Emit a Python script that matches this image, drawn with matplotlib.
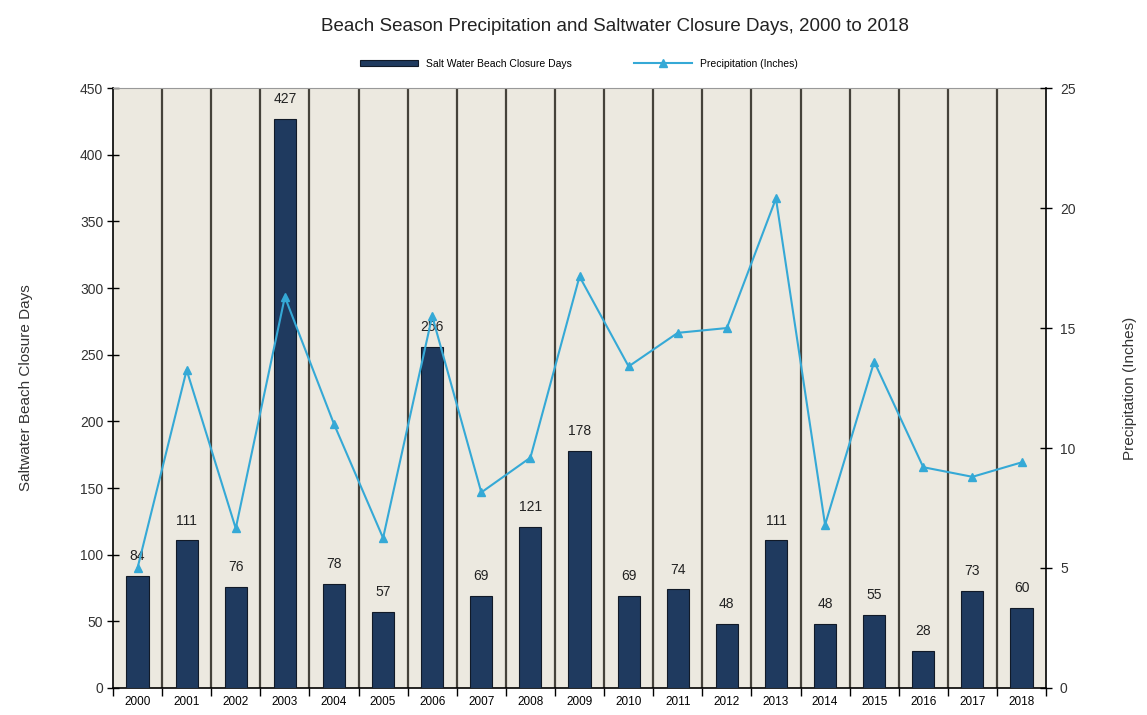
import numpy as np
import matplotlib.pyplot as plt

# Datos
years = [str(y) for y in range(2000, 2019)]
closure_days = [84, 111, 76, 427, 78, 57, 256, 69, 121, 178, 69, 74, 48, 111, 48, 55, 28, 73, 60]
precip_inches = [5.0, 13.25, 6.65, 16.3, 11.0, 6.25, 15.5, 8.15, 9.6, 17.15,
                 13.4, 14.8, 15.0, 20.4, 6.8, 13.6, 9.2, 8.8, 9.4]


def plot_closures():
    plt.rcParams['font.family'] = ['Liberation Sans', 'DejaVu Sans']
    fig = plt.figure(figsize=(11.47, 7.15), dpi=100)
    ax = fig.add_axes([0.0985, 0.0378, 0.8135, 0.839])
    ax.set_facecolor('#ECE9E0')

    x = np.arange(len(years))
    bars = ax.bar(x, closure_days, width=0.45, color='#1F3A5F', edgecolor='#111a28',
                  linewidth=0.8, label='Salt Water Beach Closure Days', zorder=3)

    # Etiquetas de valor sobre las barras
    for xi, v in zip(x, closure_days):
        ax.annotate(str(v), (xi, v), xytext=(0, 9), textcoords='offset points',
                    ha='center', va='bottom', fontsize=10, color='#222222', zorder=5)

    # Líneas verticales entre categorías
    for b in np.arange(0.5, len(years) - 0.5, 1):
        ax.axvline(b, color='#45423a', linewidth=1.6, zorder=1)

    ax.set_xlim(-0.5, len(years) - 0.5)
    ax.set_ylim(0, 450)
    ax.set_yticks(np.arange(0, 451, 50))
    ax.set_xticks(x)
    ax.set_xticklabels(years, fontsize=8.5)
    ax.tick_params(axis='x', length=0, pad=6)
    ax.set_xticks(np.arange(-0.5, len(years), 1), minor=True)
    ax.tick_params(axis='x', which='minor', length=6, width=1, color='black')
    ax.tick_params(axis='y', direction='inout', length=8, width=1, labelsize=10,
                   labelcolor='#333333', pad=3)
    ax.set_ylabel('Saltwater Beach Closure Days', fontsize=11, color='#333333', labelpad=34)
    for side in ['left', 'bottom']:
        ax.spines[side].set_color('black')
        ax.spines[side].set_linewidth(1.2)
    ax.spines['top'].set_color('#999999')
    ax.spines['right'].set_visible(False)

    ax2 = ax.twinx()
    line, = ax2.plot(x, precip_inches, color='#35A9D6', linewidth=1.5, marker='^',
                     markersize=6, label='Precipitation (Inches)', zorder=4)
    ax2.set_ylim(0, 25)
    ax2.set_yticks(np.arange(0, 26, 5))
    ax2.tick_params(axis='y', direction='inout', length=8, width=1, labelsize=10,
                    labelcolor='#333333', pad=6)
    ax2.set_ylabel('Precipitation (Inches)', fontsize=11, color='#333333', labelpad=34)
    ax2.spines['right'].set_color('black')
    ax2.spines['right'].set_linewidth(1.2)
    for side in ['left', 'top', 'bottom']:
        ax2.spines[side].set_visible(False)

    fig.legend([bars, line], ['Salt Water Beach Closure Days', 'Precipitation (Inches)'],
               loc='center', bbox_to_anchor=(0.505, 0.911), ncol=2, frameon=False,
               fontsize=7.5, handlelength=5.5, handleheight=0.5, columnspacing=6)
    fig.suptitle('Beach Season Precipitation and Saltwater Closure Days, 2000 to 2018',
                 x=0.536, y=0.975, fontsize=13.5, color='#222222')

    fig.savefig('out.png', dpi=100)


if __name__ == '__main__':
    plot_closures()
